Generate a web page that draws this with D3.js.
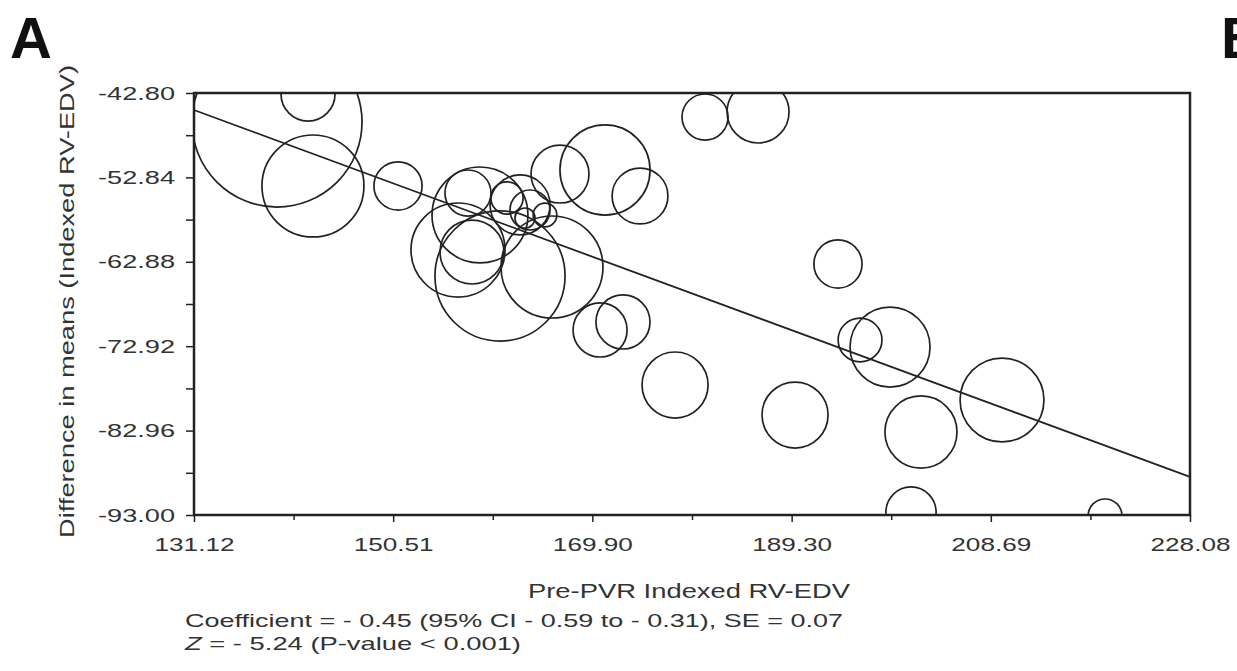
<!DOCTYPE html>
<html>
<head>
<meta charset="utf-8">
<script src="https://cdn.jsdelivr.net/npm/d3@7"></script>
<style>
  html, body { margin: 0; padding: 0; background: #fff; }
  svg { display: block; font-family: "Liberation Sans", Arial, Helvetica, sans-serif; }
</style>
</head>
<body>
<svg id="chart" width="1237" height="671"></svg>
<script>
// ---- data ----
const xTicks = [131.12, 150.51, 169.90, 189.30, 208.69, 228.08];
const yTicks = [-42.80, -52.84, -62.88, -72.92, -82.96, -93.00];

const studyX = [139.20, 142.22, 142.70, 150.98, 157.79, 161.59, 162.86, 163.83, 165.29, 163.34,
                158.96, 156.82, 158.18, 160.91, 165.97, 166.75, 171.13, 174.54, 180.87, 186.03,
                170.65, 172.88, 177.95, 189.63, 193.81, 195.96, 198.88, 201.89, 209.78, 200.92, 219.81];
const studyY = [-46.25, -42.92, -53.86, -53.86, -54.70, -55.29, -56.12, -56.72, -57.31, -57.67,
                -57.31, -61.48, -61.72, -64.57, -63.50, -52.44, -51.96, -55.05, -45.66, -45.06,
                -70.99, -70.04, -77.54, -81.11, -63.14, -72.18, -73.02, -83.13, -79.32, -92.65, -93.12];
const studyWeight = [72.3, 7.3, 26.0, 5.8, 5.3, 2.6, 9.0, 4.0, 1.4, 1.0,
                     23.0, 22.1, 10.2, 42.3, 26.0, 8.4, 20.3, 7.8, 5.3, 9.6,
                     7.3, 7.3, 10.9, 10.9, 5.8, 4.8, 16.0, 13.0, 17.6, 6.3, 2.9];

const regIntercept = 14.18;
const regSlope = -0.45;

const xLabel = "Pre-PVR Indexed RV-EDV";
const yLabel = "Difference in means (Indexed RV-EDV)";
const statLine1 = "Coefficient = - 0.45 (95% CI - 0.59 to - 0.31), SE = 0.07";
const statLine2Z = "Z";
const statLine2Rest = " = - 5.24 (P-value < 0.001)";

// ---- layout ----
const svg = d3.select("#chart");
const L = 194, R = 1190, T = 93, B = 515;
const ink = "#222", txt = "#333";

const x = d3.scaleLinear().domain([xTicks[0], xTicks[xTicks.length - 1]]).range([L, R]);
const y = d3.scaleLinear().domain([yTicks[yTicks.length - 1], yTicks[0]]).range([B, T]);
const rScale = d3.scaleSqrt().domain([0, 100]).range([0, 100]);

svg.append("rect").attr("width", 1237).attr("height", 671).attr("fill", "#fff");

svg.append("defs").append("clipPath").attr("id", "plotclip")
  .append("rect").attr("x", L).attr("y", T).attr("width", R - L).attr("height", B - T);

// minor ticks (midpoints between majors)
const mid = arr => arr.slice(1).map((v, i) => (v + arr[i]) / 2);
const xMinor = mid(xTicks), yMinor = mid(yTicks);

// axes
const xAxis = svg.append("g").attr("transform", `translate(0,${B})`)
  .call(d3.axisBottom(x).tickValues(xTicks).tickFormat(d => d.toFixed(2)).tickSize(7).tickPadding(16));
const xAxisMinor = svg.append("g").attr("transform", `translate(0,${B})`)
  .call(d3.axisBottom(x).tickValues(xMinor).tickFormat("").tickSize(5));
const yAxis = svg.append("g").attr("transform", `translate(${L},0)`)
  .call(d3.axisLeft(y).tickValues(yTicks).tickFormat(d => d.toFixed(2)).tickSize(8).tickPadding(11));
const yAxisMinor = svg.append("g").attr("transform", `translate(${L},0)`)
  .call(d3.axisLeft(y).tickValues(yMinor).tickFormat("").tickSize(8));

[xAxis, xAxisMinor, yAxis, yAxisMinor].forEach(g => {
  g.select(".domain").remove();
  g.selectAll(".tick line").attr("stroke", ink).attr("stroke-width", 1.5);
  g.selectAll(".tick text").attr("fill", txt).attr("font-size", 19)
    .attr("font-family", '"Liberation Sans", Arial, sans-serif');
});
xAxis.selectAll(".tick text").attr("textLength", 80).attr("lengthAdjust", "spacingAndGlyphs");
yAxis.selectAll(".tick text").attr("textLength", 77).attr("lengthAdjust", "spacingAndGlyphs");

// bubbles
const studies = studyX.map((v, i) => ({ x: v, y: studyY[i], w: studyWeight[i] }));
svg.append("g").attr("clip-path", "url(#plotclip)")
  .selectAll("circle").data(studies).join("circle")
  .attr("cx", d => x(d.x)).attr("cy", d => y(d.y)).attr("r", d => rScale(d.w))
  .attr("fill", "none").attr("stroke", ink).attr("stroke-width", 1.7);

// regression line
const x0 = x.domain()[0], x1 = x.domain()[1];
svg.append("line")
  .attr("x1", x(x0)).attr("y1", y(regIntercept + regSlope * x0))
  .attr("x2", x(x1)).attr("y2", y(regIntercept + regSlope * x1))
  .attr("stroke", ink).attr("stroke-width", 1.8);

// frame
svg.append("rect").attr("x", L).attr("y", T).attr("width", R - L).attr("height", B - T)
  .attr("fill", "none").attr("stroke", ink).attr("stroke-width", 2.5);

// panel letters
svg.append("text").attr("x", 10).attr("y", 58).attr("font-size", 58).attr("font-weight", "bold")
  .attr("fill", "#111").text("A");
svg.append("text").attr("x", 1221).attr("y", 58).attr("font-size", 58).attr("font-weight", "bold")
  .attr("fill", "#111").text("B");

// axis titles
svg.append("text").attr("x", 689).attr("y", 598).attr("text-anchor", "middle")
  .attr("font-size", 20).attr("fill", txt)
  .attr("textLength", 322).attr("lengthAdjust", "spacingAndGlyphs").text(xLabel);

svg.append("text").attr("transform", "translate(67,301.5) rotate(-90)")
  .attr("text-anchor", "middle").attr("dy", "0.35em")
  .attr("font-size", 20).attr("fill", txt)
  .attr("textLength", 473).attr("lengthAdjust", "spacingAndGlyphs").text(yLabel);

// statistics
svg.append("text").attr("x", 185).attr("y", 627).attr("font-size", 19).attr("fill", txt)
  .attr("textLength", 658).attr("lengthAdjust", "spacingAndGlyphs").text(statLine1);

const z = svg.append("text").attr("x", 185).attr("y", 650).attr("font-size", 19).attr("fill", txt)
  .attr("textLength", 336).attr("lengthAdjust", "spacingAndGlyphs");
z.append("tspan").attr("font-style", "italic").text(statLine2Z);
z.append("tspan").text(statLine2Rest);
</script>
</body>
</html>
